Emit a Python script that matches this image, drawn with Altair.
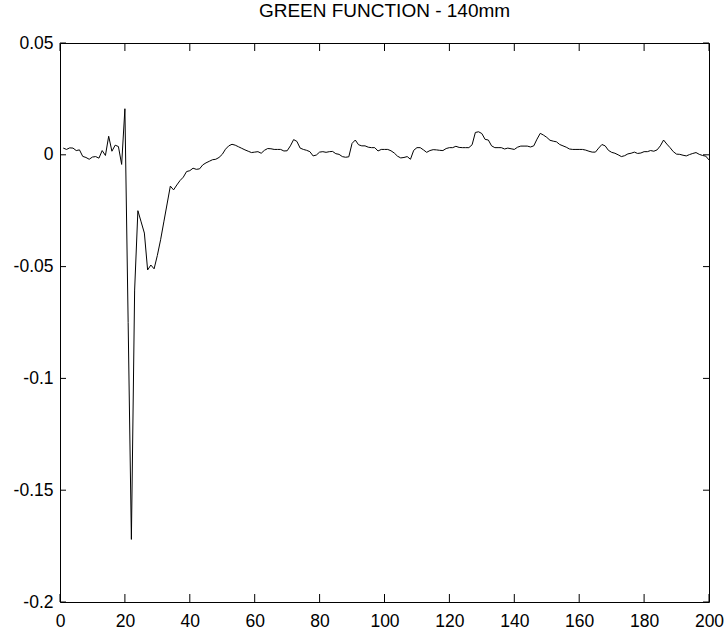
import altair as alt
import pandas as pd

# Green function response, one sample per index (1..200)
sample_index = list(range(1, 201))
green_values = [
    0.0030, 0.0024, 0.0031, 0.0030, 0.0019, 0.0022, -0.0007, -0.0012, -0.0020, -0.0010,
    -0.0008, -0.0015, 0.0019, -0.0003, 0.0083, 0.0016, 0.0043, 0.0037, -0.0043, 0.0206,
    -0.0750, -0.1720, -0.0605, -0.0250, -0.0300, -0.0350, -0.0515, -0.0493, -0.0510, -0.0450,
    -0.0380, -0.0300, -0.0220, -0.0140, -0.0157, -0.0135, -0.0115, -0.0100, -0.0075, -0.0071,
    -0.0060, -0.0065, -0.0063, -0.0045, -0.0036, -0.0029, -0.0022, -0.0020, -0.0012, 0.0002,
    0.0025, 0.0040, 0.0047, 0.0043, 0.0036, 0.0029, 0.0022, 0.0016, 0.0010, 0.0012,
    0.0014, 0.0007, 0.0020, 0.0028, 0.0027, 0.0024, 0.0024, 0.0024, 0.0017, 0.0018,
    0.0040, 0.0068, 0.0060, 0.0030, 0.0024, 0.0020, 0.0014, -0.0005, -0.0001, 0.0012,
    0.0014, 0.0011, 0.0014, 0.0015, 0.0005, 0.0002, -0.0008, -0.0011, -0.0009, 0.0051,
    0.0066, 0.0045, 0.0040, 0.0040, 0.0034, 0.0032, 0.0032, 0.0017, 0.0024, 0.0024,
    0.0024, 0.0018, 0.0008, -0.0006, -0.0014, -0.0012, -0.0008, -0.0020, 0.0020, 0.0032,
    0.0032, 0.0022, 0.0011, 0.0019, 0.0023, 0.0022, 0.0020, 0.0019, 0.0028, 0.0032,
    0.0032, 0.0038, 0.0033, 0.0032, 0.0032, 0.0032, 0.0045, 0.0100, 0.0103, 0.0095,
    0.0069, 0.0066, 0.0040, 0.0032, 0.0032, 0.0032, 0.0026, 0.0030, 0.0027, 0.0024,
    0.0034, 0.0039, 0.0039, 0.0039, 0.0035, 0.0040, 0.0070, 0.0096, 0.0088, 0.0078,
    0.0065, 0.0061, 0.0058, 0.0046, 0.0040, 0.0034, 0.0026, 0.0024, 0.0024, 0.0024,
    0.0024, 0.0021, 0.0016, 0.0012, 0.0012, 0.0030, 0.0046, 0.0040, 0.0020, 0.0011,
    0.0007, 0.0000, -0.0008, -0.0004, 0.0004, 0.0007, 0.0012, 0.0006, 0.0008, 0.0014,
    0.0014, 0.0019, 0.0016, 0.0022, 0.0040, 0.0066, 0.0048, 0.0032, 0.0014, 0.0003,
    0.0002, -0.0002, -0.0005, 0.0001, 0.0006, 0.0010, 0.0002, -0.0003, -0.0006, -0.0023,
]

x_ticks = [0, 20, 40, 60, 80, 100, 120, 140, 160, 180, 200]
y_ticks = [-0.2, -0.15, -0.1, -0.05, 0, 0.05]

W, H = 649, 559
FONT = "Liberation Sans"

series = pd.DataFrame({"n": sample_index, "g": green_values})
xt = pd.DataFrame({"n": x_ticks})
yt = pd.DataFrame({"g": y_ticks})

x_scale = alt.Scale(domain=[0, 200], nice=False, zero=False)
y_scale = alt.Scale(domain=[-0.2, 0.05], nice=False, zero=False)

x_axis = alt.Axis(values=x_ticks, ticks=False, tickSize=0, domain=False, grid=False,
                  labelPadding=10, labelFontSize=17.5, labelFont=FONT,
                  labelColor="black", labelFlush=False)
y_axis = alt.Axis(values=y_ticks, ticks=False, tickSize=0, domain=False, grid=False,
                  labelPadding=7, labelFontSize=17.5, labelFont=FONT,
                  labelColor="black", labelFlush=False,
                  labelExpr="'' + datum.value")

line = alt.Chart(series).mark_line(color="black", strokeWidth=1).encode(
    x=alt.X("n:Q", scale=x_scale, title=None, axis=x_axis),
    y=alt.Y("g:Q", scale=y_scale, title=None, axis=y_axis),
)

# inward-pointing tick marks on all four sides of the box
bottom_ticks = alt.Chart(xt).mark_rule(color="black", strokeWidth=1).encode(
    x=alt.X("n:Q", scale=x_scale, title=None, axis=x_axis), y=alt.value(H), y2=alt.value(H - 8)
)
top_ticks = alt.Chart(xt).mark_rule(color="black", strokeWidth=1).encode(
    x=alt.X("n:Q", scale=x_scale, title=None, axis=x_axis), y=alt.value(0), y2=alt.value(8)
)
left_ticks = alt.Chart(yt).mark_rule(color="black", strokeWidth=1).encode(
    y=alt.Y("g:Q", scale=y_scale, title=None, axis=y_axis), x=alt.value(0), x2=alt.value(6)
)
right_ticks = alt.Chart(yt).mark_rule(color="black", strokeWidth=1).encode(
    y=alt.Y("g:Q", scale=y_scale, title=None, axis=y_axis), x=alt.value(W), x2=alt.value(W - 6)
)

chart = (
    alt.layer(line, bottom_ticks, top_ticks, left_ticks, right_ticks)
    .properties(
        width=W,
        height=H,
        autosize=alt.AutoSizeParams(type="none"),
        padding={"left": 60, "top": 43, "right": 17, "bottom": 28},
        title=alt.TitleParams(
            "GREEN FUNCTION - 140mm",
            font=FONT, fontSize=19, fontWeight="normal", color="black",
            anchor="middle", frame="group", baseline="alphabetic", offset=-2,
        ),
        background="white",
    )
    .configure_view(stroke="black", strokeWidth=1)
)

chart.save("out.html", embed_options={"renderer": "svg", "actions": False})
